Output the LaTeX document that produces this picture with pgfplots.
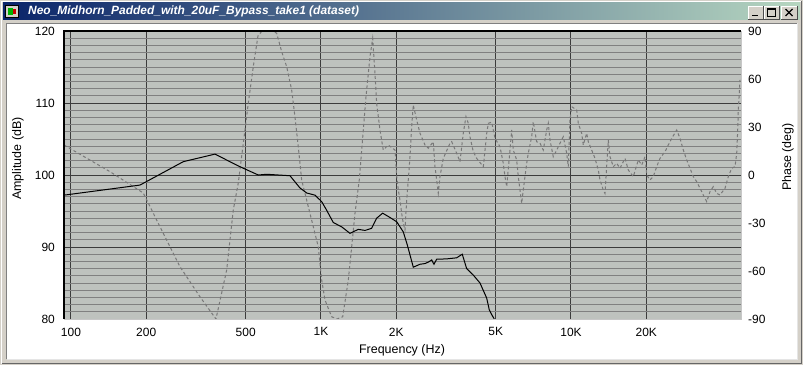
\documentclass[border=0pt]{standalone}
\usepackage{fontspec}
\setmainfont{Liberation Sans}
\usepackage{pgfplots}
\usepackage{pgfplotstable}
\pgfplotsset{compat=1.18}
\pgfkeys{/pgf/number format/assume math mode=true}
\definecolor{winface}{RGB}{212,208,200}
\definecolor{plotbg}{RGB}{190,194,190}
\definecolor{minorg}{RGB}{128,128,128}
\definecolor{majorg}{RGB}{60,60,60}
\definecolor{phasec}{RGB}{120,120,120}
\definecolor{titleL}{RGB}{10,36,106}
\definecolor{titleR}{RGB}{182,214,192}

\pgfplotstableread{
f p
93.8 18.75
143.2 2.1
194.7 -11.25
227 -32.3
272.9 -57.3
328.1 -76.1
380.2 -90
419.6 -59.4
445.9 -21.9
466.9 -5
496.6 28.1
512.0 45
536.1 67.7
559.8 86.9
580.8 90
642.7 90
665 88.6
696.4 77.1
729.2 67.7
763.6 53.1
787.0 36.4
811.3 17.7
837.1 -3.1
903.6 -24
975.4 -44.8
1006.5 -65.6
1037.5 -78.1
1103.6 -88.6
1158.8 -90
1221.6 -88.6
1286.2 -65.6
1327 -44.8
1367.7 -24
1423 -3.1
1455 15.6
1513.6 48.9
1570.4 73.9
1610 85.4
1644.4 63.6
1670 44.8
1721.9 28.1
1775 15.6
1858.5 18.75
1977.0 15.6
2009 -1
2038.8 -9.4
2070.1 -15.6
2102.7 -24
2134 -30.2
2167.7 -34.4
2202 -15.6
2234.5 -3.1
2269.8 11.4
2305.6 30.2
2339.8 43.75
2414.2 34.4
2488.7 26.1
2606.2 18.75
2686.6 16.7
2813 20.8
2857.6 5.2
2902.6 -3.1
2945.7 -11.4
2992.3 -1
3084.6 10.4
3281 19.8
3333 20.8
3490 13.6
3597.5 8.3
3708.5 26.1
3801.9 36.5
3883.3 32.3
3944.6 23.9
4066.4 14.6
4195.7 10.4
4460.4 5.2
4602.3 26.1
4670.6 32.3
4819 33
4966.1 22.9
5200 17.7
5360.5 7.3
5445 -1
5531 -7.3
5702 15.6
5792 28.1
5878 15.6
6064 9.4
6154 -1
6252 -9.4
6350 -17.7
6444 -9.4
6546 -1
6650 7.3
6748 13.6
6962 23.9
7066 33.3
7290 20.8
7516 19.8
7748 15.6
7995 28.1
8114 32.3
8241 21.9
8495 11.4
8766 15.6
9036 19.8
9316 23.9
9612 13.6
9754 5.2
9908 34.4
10065 42.7
10539 40.6
10696 32.3
11035 26.1
11198 18.75
11554 26.1
11726 20.8
12098 15.6
12474 10.4
12860 3.1
13062 -3.1
13465 -9.4
13677 -11.5
14100 21.9
14322 11.4
14764 5.2
15234 7.3
15704 4.2
16444 10.4
16953 3.1
17752 -1
18589 9.4
19181 6.25
19770 11.4
20090 0
20701 -3.1
21338 -1
22016 5.2
22699 10.4
23768 14.6
24501 18.75
25280 22.9
26470 28.1
27290 22.9
28135 15.6
29030 9.4
29923 4.2
30848 -1
31829 -4.2
32810 -8.3
33822 -12.5
34898 -16.7
35975 -10.4
37084 -7.3
38264 -11.5
39446 -12.5
41305 -8.3
42580 -1
43935 4.2
45290 5.2
46006 13.6
46431 28.1
46688 40.6
47424 59.4
}\phasedata

\pgfplotstableread{
f a
93.8 97.2
188.8 98.6
200.8 99.1
281.3 101.85
376.7 102.9
474.2 101.15
561.3 100.0
606.5 100.1
751.6 99.9
824.1 98.2
876.7 97.5
946.2 97.2
1006.5 96.3
1054 95.1
1120 93.4
1210 92.8
1306 91.9
1410 92.45
1500 92.3
1595 92.6
1670 94.0
1765 94.7
1888 94.1
2009 93.5
2134 92.1
2214 90.3
2340 87.2
2489 87.6
2606 87.7
2687 87.9
2772 88.2
2831 87.6
2903 88.3
3183 88.35
3490 88.5
3674 89.0
3826 87.0
4067 86.1
4325 85.0
4601 82.9
4713 81.25
4819 80.6
4935 80.0
}\ampdata

\begin{document}
\begin{tikzpicture}
\useasboundingbox (0,0) rectangle (803bp,365bp);
% window frame
\fill[winface] (0,0) rectangle (803bp,365bp);
\draw[white, line width=1bp] (1.5bp,1.5bp) -- (1.5bp,363.5bp) -- (801.5bp,363.5bp);
\draw[black!60, line width=1bp] (1.5bp,1.5bp) -- (801.5bp,1.5bp) -- (801.5bp,363.5bp);
% title bar
\shade[left color=titleL, right color=titleR] (3bp,345bp) rectangle (800bp,362bp);
% icon
\fill[winface] (5bp,347bp) rectangle (19bp,360bp);
\draw[black, line width=0.8bp] (5.5bp,347.5bp) rectangle (18.5bp,359.5bp);
\fill[green!70!black] (8bp,350bp) rectangle (13bp,357bp);
\fill[red!80!black] (13bp,351bp) rectangle (16bp,356bp);
\node[anchor=west, inner sep=0pt, text=white, font=\fontsize{12}{13}\selectfont\bfseries\itshape] at (28bp,353.5bp) {Neo\_Midhorn\_Padded\_with\_20uF\_Bypass\_take1 (dataset)};
% buttons
\foreach \xa/\xb in {748/763, 764/779, 781/797}{
  \fill[winface] (\xa bp,346bp) rectangle (\xb bp,359bp);
  \draw[white, line width=0.8bp] (\xa bp,346bp) -- (\xa bp,359bp) -- (\xb bp,359bp);
  \draw[black!70, line width=0.8bp] (\xa bp,346bp) -- (\xb bp,346bp) -- (\xb bp,359bp);
}
\draw[black, line width=1.6bp] (752bp,349.5bp) -- (758bp,349.5bp);
\draw[black, line width=0.9bp] (767.5bp,349bp) rectangle (775.5bp,356.5bp);
\draw[black, line width=1.8bp] (767.5bp,356bp) -- (775.5bp,356bp);
\draw[black, line width=1.3bp] (785.5bp,349bp) -- (792.5bp,356bp);
\draw[black, line width=1.3bp] (785.5bp,356bp) -- (792.5bp,349bp);
% client area
\fill[white] (7bp,6bp) rectangle (797bp,341bp);
\draw[black!50, line width=1bp] (6.5bp,5.5bp) -- (6.5bp,341.5bp) -- (797.5bp,341.5bp);
\draw[black!10, line width=1bp] (6.5bp,5.5bp) -- (797.5bp,5.5bp) -- (797.5bp,341.5bp);

% axis 1: amplitude grid and labels
\begin{axis}[
  scale only axis, width=677bp, height=288bp,
  at={(64bp,46bp)}, anchor=south west,
  xmode=log, xmin=93.8, xmax=47863,
  ymin=80, ymax=120,
  major tick length=0pt, minor tick length=0pt,
  ytick={80,90,100,110,120},
  minor ytick={80,81,...,120},
  xtick={100,200,500,1000,2000,5000,10000,20000},
  xticklabels={100,200,500,1K,2K,5K,10K,20K},
  xmajorgrids, ymajorgrids, yminorgrids,
  major grid style={draw=majorg, line width=1bp},
  minor grid style={draw=minorg, line width=1bp},
  axis background/.style={fill=plotbg},
  axis line style={draw=none},
  yticklabel pos=left,
  yticklabel style={anchor=east, inner sep=0pt, xshift=-9bp, font=\fontsize{12}{14}\selectfont},
  xticklabel style={anchor=north, inner sep=0pt, yshift=-8.5bp, font=\fontsize{12}{14}\selectfont},
  xlabel={Frequency (Hz)},
  ylabel={Amplitude (dB)},
  xlabel style={at={(axis description cs:0.4993,-0.1076)}, anchor=center, font=\fontsize{12.5}{14}\selectfont},
  ylabel style={at={(axis description cs:-0.068,0.557)}, anchor=center, font=\fontsize{12.5}{14}\selectfont},
]
\addplot[draw=none] coordinates {(1000,100)};
\end{axis}

% axis 2: phase
\begin{axis}[
  scale only axis, width=677bp, height=288bp,
  at={(64bp,46bp)}, anchor=south west,
  xmode=log, xmin=93.8, xmax=47863,
  ymin=-90, ymax=90,
  major tick length=0pt, minor tick length=0pt,
  axis x line=none, axis y line*=right,
  axis line style={draw=none},
  ytick={-90,-60,-30,0,30,60,90},
  yticklabel style={anchor=west, inner sep=0pt, xshift=7bp, font=\fontsize{12}{14}\selectfont},
  ylabel={Phase (deg)},
  ylabel style={at={(axis description cs:1.0694,0.5625)}, anchor=center, font=\fontsize{12.5}{14}\selectfont},
]
\addplot[phasec, line width=1bp, dash pattern=on 3bp off 2.5bp] table[x=f, y=p] {\phasedata};
\end{axis}

% axis 3: amplitude curve
\begin{axis}[
  scale only axis, width=677bp, height=288bp,
  at={(64bp,46bp)}, anchor=south west,
  xmode=log, xmin=93.8, xmax=47863,
  ymin=80, ymax=120, hide axis]
\addplot[black, line width=1bp] table[x=f, y=a] {\ampdata};
\end{axis}

% plot border (sunken)
\draw[black, line width=2bp] (64bp,46bp) -- (64bp,334bp) -- (741bp,334bp);
\draw[black!22, line width=1.2bp] (64bp,45.5bp) -- (741.5bp,45.5bp) -- (741.5bp,334bp);
\end{tikzpicture}
\end{document}
